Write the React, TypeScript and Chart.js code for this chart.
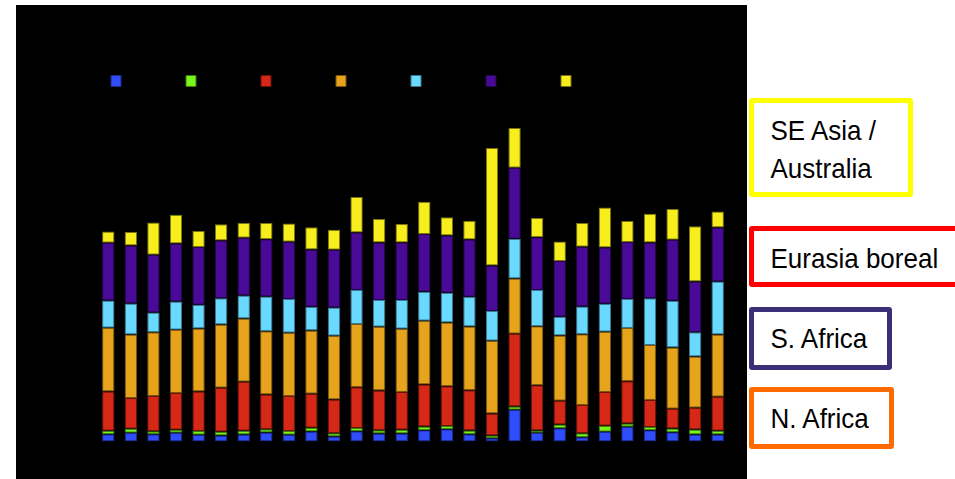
import React, { useEffect, useRef } from "react";
import { Chart, registerables } from "chart.js";

Chart.register(...registerables);

// Years (x categories, labels hidden in the reference)
const years = [
  "1980", "1981", "1982", "1983", "1984", "1985", "1986", "1987", "1988", "1989",
  "1990", "1991", "1992", "1993", "1994", "1995", "1996", "1997", "1998", "1999",
  "2000", "2001", "2002", "2003", "2004", "2005", "2006", "2007",
];

// Stacked series, bottom to top (arbitrary units)
const nAmericaBoreal = [7.3, 8.7, 7.3, 8.7, 6.7, 6, 7, 9, 6.7, 10, 5, 10.3, 8, 8, 11.3, 12.3, 7.3, 3.3, 31.7, 8.7, 13.3, 4.3, 9.7, 14.7, 11.3, 9.3, 7, 7];
const europe = [3.4, 4, 3, 3, 3.7, 3.7, 3.7, 3.3, 3.7, 3.7, 3.3, 3.3, 3.3, 3.7, 3.7, 3.3, 3.7, 2.7, 3.3, 2.3, 3.7, 4, 6, 3.3, 3.3, 3.7, 5, 3.7];
const eurasiaBoreal = [39.3, 30.7, 35.3, 36.7, 39.7, 44, 49, 34.7, 35, 34, 33.7, 40.7, 39.7, 37.7, 42, 39.7, 40.3, 22, 72.7, 45.3, 23.7, 28.3, 33.7, 42.3, 27, 19.7, 21.7, 34];
const nAfrica = [63.7, 63.7, 63.7, 63.3, 63, 63.3, 63.3, 63.3, 63.3, 63.3, 63.7, 63.3, 63.7, 63.3, 63.7, 63.7, 63.7, 72.7, 55.3, 59, 65.3, 70.7, 60.3, 53.3, 55, 61.3, 51.3, 62.3];
const sAmerica = [27.3, 31, 19.7, 28.3, 23.7, 26.3, 23, 34.7, 33.7, 23.7, 28.3, 34, 26.7, 28.7, 29, 29.7, 29.7, 29.7, 39.7, 36.3, 18.7, 27.7, 28, 29, 46.7, 46.7, 24.3, 53];
const sAfrica = [57.7, 58, 57.7, 58, 57.7, 57.7, 57.7, 57.3, 57.3, 57.3, 57.7, 57.3, 57.7, 57.7, 57.7, 57.3, 57.3, 45.7, 71, 52.7, 55.7, 59.7, 56.3, 57, 55.7, 61, 50.7, 54];
const seAsiaAustralia = [11.3, 13.3, 32.3, 28.7, 16, 16.3, 14.7, 16.3, 18.3, 22.3, 20, 35.7, 23.3, 18.3, 32.3, 18.3, 18.7, 117.3, 39.7, 19.3, 19.7, 23.7, 40, 21, 28.7, 30.7, 55.3, 16];

const seriesNames = [
  "N. America boreal",
  "Europe",
  "Eurasia boreal",
  "N. Africa",
  "S. America",
  "S. Africa",
  "SE Asia / Australia",
];
const seriesValues = [nAmericaBoreal, europe, eurasiaBoreal, nAfrica, sAmerica, sAfrica, seAsiaAustralia];
const fillColors = ["#2f4dfb", "#78f51a", "#d62816", "#e6a31c", "#6ad9ff", "#4a0a98", "#f8ee1e"];
const edgeColors = ["#1a2a8a", "#3a7a10", "#6a1408", "#7a5410", "#3a7890", "#25054c", "#7a7410"];

const boxes = [
  { lines: ["SE Asia /", "Australia"], color: "#ffff00", left: 749, top: 98, width: 164, height: 99, textTops: [116, 154.3] },
  { lines: ["Eurasia boreal"], color: "#ff0000", left: 749, top: 226, width: 215, height: 61, textTops: [244.3] },
  { lines: ["S. Africa"], color: "#3b2f78", left: 749, top: 306.5, width: 143, height: 63, textTops: [324.3] },
  { lines: ["N. Africa"], color: "#ff6a00", left: 749, top: 386.5, width: 144.5, height: 62.5, textTops: [404.3] },
];

export default function App() {
  const canvasRef = useRef<HTMLCanvasElement | null>(null);

  useEffect(() => {
    const canvas = canvasRef.current;
    if (!canvas) return;
    const chart = new Chart(canvas, {
      type: "bar",
      data: {
        labels: years,
        datasets: seriesValues.map((vals, i) => ({
          label: seriesNames[i],
          data: vals,
          backgroundColor: fillColors[i],
          borderColor: edgeColors[i],
          borderWidth: 1,
          borderSkipped: false,
          barPercentage: 0.55,
          categoryPercentage: 1,
        })),
      },
      options: {
        responsive: false,
        maintainAspectRatio: false,
        animation: false,
        devicePixelRatio: 1,
        layout: { padding: { top: 11, left: 36, right: 18, bottom: 37.5 } },
        plugins: {
          tooltip: { enabled: false },
          legend: {
            display: true,
            position: "top",
            align: "start",
            labels: {
              boxWidth: 10,
              boxHeight: 11,
              padding: 59,
              color: "#000",
              font: { size: 12 },
              generateLabels: (c: any) =>
                Chart.defaults.plugins.legend.labels
                  .generateLabels(c)
                  .map((l: any) => ({ ...l, text: "" })),
            },
          },
        },
        scales: {
          x: { stacked: true, display: false },
          y: {
            stacked: true,
            min: 0,
            max: 344.5,
            display: true,
            ticks: { display: false },
            grid: { display: false },
            border: { display: false },
            afterFit: (s: any) => {
              s.width = 45;
            },
          },
        },
      },
    });
    return () => chart.destroy();
  }, []);

  return (
    <div style={{ position: "absolute", left: 0, top: 0, width: 955, height: 479, overflow: "hidden", background: "#fff" }}>
      <div style={{ position: "absolute", left: 16, top: 5, width: 731, height: 474, background: "#000" }}>
        <canvas ref={canvasRef} width={731} height={474} style={{ display: "block", width: 731, height: 474 }} />
      </div>
      {boxes.map((b, i) => (
        <React.Fragment key={i}>
          <div
            style={{
              position: "absolute",
              left: b.left,
              top: b.top,
              width: b.width,
              height: b.height,
              boxSizing: "border-box",
              border: `5px solid ${b.color}`,
              borderRadius: 3,
              background: "#fff",
            }}
          />
          {b.lines.map((t, j) => (
            <div
              key={j}
              style={{
                position: "absolute",
                left: 770.5,
                top: b.textTops[j],
                fontFamily: "'Liberation Sans', Arial, sans-serif",
                fontSize: 26,
                lineHeight: "30px",
                color: "#000",
                whiteSpace: "nowrap",
                transform: "scaleY(1.07)",
                transformOrigin: "0 24px",
              }}
            >
              {t}
            </div>
          ))}
        </React.Fragment>
      ))}
    </div>
  );
}
